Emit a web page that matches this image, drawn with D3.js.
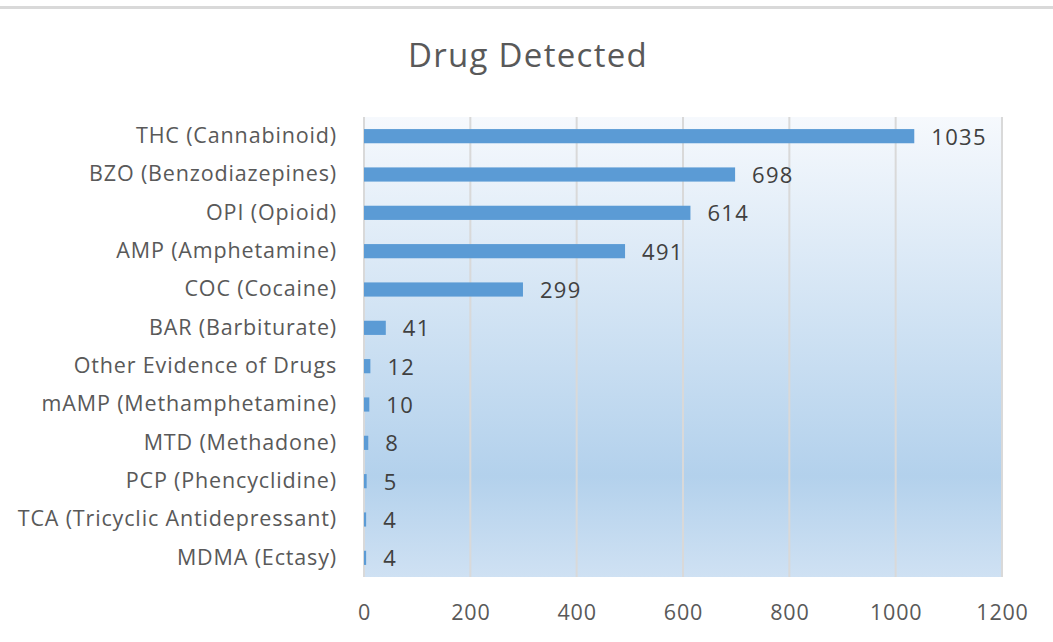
<!DOCTYPE html>
<html>
<head>
<meta charset="utf-8">
<script src="https://cdn.jsdelivr.net/npm/d3@7"></script>
<style>
  body { margin: 0; background: #fff; }
  text { font-family: "Open Sans", sans-serif; }
</style>
</head>
<body>
<svg id="chart" width="1053" height="642"></svg>
<script>
const WIDTH = 1053;
const HEIGHT = 642;

var categories = ["THC (Cannabinoid)", "BZO (Benzodiazepines)", "OPI (Opioid)",
                  "AMP (Amphetamine)", "COC (Cocaine)", "BAR (Barbiturate)",
                  "Other Evidence of Drugs", "mAMP (Methamphetamine)", "MTD (Methadone)",
                  "PCP (Phencyclidine)", "TCA (Tricyclic Antidepressant)", "MDMA (Ectasy)"];
var values = [1035, 698, 614, 491, 299, 41, 12, 10, 8, 5, 4, 4];
var x_ticks = [0, 200, 400, 600, 800, 1000, 1200];

var margin = {top: 117, right: 51, bottom: 65, left: 364};
var plot_w = 1002 - margin.left;
var plot_h = 577 - margin.top;

var svg = d3.select("#chart");

// top rule across the page
svg.append("rect")
    .attr("x", 0).attr("y", 6)
    .attr("width", WIDTH).attr("height", 3)
    .attr("fill", "#d9d9d9");

// background gradient of the plot area
var grad = svg.append("defs").append("linearGradient")
    .attr("id", "bg")
    .attr("x1", 0).attr("y1", 0).attr("x2", 0).attr("y2", 1);
grad.append("stop").attr("offset", 0).attr("stop-color", "#f6f9fd");
grad.append("stop").attr("offset", 0.78).attr("stop-color", "#b3d1ec");
grad.append("stop").attr("offset", 1).attr("stop-color", "#cfe1f3");

var x = d3.scaleLinear()
    .domain([0, 1200])
    .range([0, plot_w]);

var y = d3.scaleBand()
    .domain(categories)
    .range([0, plot_h])
    .paddingInner(0.63)
    .paddingOuter(0.315);

var g = svg.append("g")
    .attr("transform", "translate(" + margin.left + "," + margin.top + ")");

g.append("rect")
    .attr("width", plot_w)
    .attr("height", plot_h)
    .attr("fill", "url(#bg)");

// vertical gridlines
g.selectAll(".grid")
    .data(x_ticks)
    .enter().append("line")
    .attr("class", "grid")
    .attr("x1", d => x(d)).attr("x2", d => x(d))
    .attr("y1", 0).attr("y2", plot_h)
    .attr("stroke", "#d9d9d9")
    .attr("stroke-width", 2);

// bars
g.selectAll(".bar")
    .data(values)
    .enter().append("rect")
    .attr("class", "bar")
    .attr("x", x(0))
    .attr("y", (d, i) => y(categories[i]))
    .attr("width", d => x(d) - x(0))
    .attr("height", y.bandwidth())
    .attr("fill", "#5b9bd5");

// value labels
g.selectAll(".val")
    .data(values)
    .enter().append("text")
    .attr("class", "val")
    .attr("x", d => x(d) + 17)
    .attr("y", (d, i) => y(categories[i]) + y.bandwidth() / 2)
    .attr("dy", "0.38em")
    .attr("font-size", 22)
    .attr("letter-spacing", 1.3)
    .attr("fill", "#404040")
    .text(d => d);

// x axis
var x_axis = d3.axisBottom(x)
    .tickValues(x_ticks)
    .tickFormat(d3.format("d"))
    .tickSize(0)
    .tickPadding(28);
var xg = g.append("g")
    .attr("transform", "translate(0," + plot_h + ")")
    .call(x_axis);
xg.select(".domain").remove();
xg.selectAll("text")
    .attr("font-size", 21.5)
    .attr("letter-spacing", 0.8)
    .attr("font-family", "'Open Sans', sans-serif")
    .attr("fill", "#595959");

// y axis
var y_axis = d3.axisLeft(y)
    .tickSize(0)
    .tickPadding(27);
var yg = g.append("g").call(y_axis);
yg.select(".domain").remove();
yg.selectAll("text")
    .attr("font-size", 21.5)
    .attr("letter-spacing", 0.85)
    .attr("font-family", "'Open Sans', sans-serif")
    .attr("fill", "#595959");

// title
svg.append("text")
    .attr("x", 528)
    .attr("y", 67)
    .attr("text-anchor", "middle")
    .attr("font-size", 33)
    .attr("letter-spacing", 1.3)
    .attr("fill", "#595959")
    .text("Drug Detected");
</script>
</body>
</html>
